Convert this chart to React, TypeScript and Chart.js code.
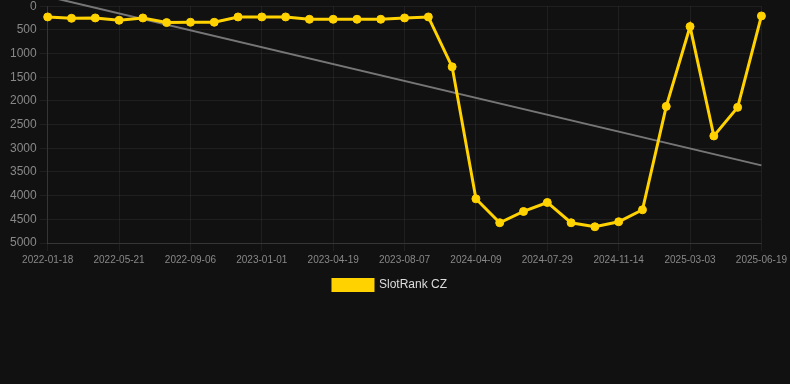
import React, { useEffect, useRef } from "react";
import { Chart, registerables } from "chart.js";

Chart.register(...registerables);

const dates = [
  "2022-01-18", "2022-02-28", "2022-04-10", "2022-05-21", "2022-06-26", "2022-08-01",
  "2022-09-06", "2022-10-15", "2022-11-23", "2023-01-01", "2023-02-06", "2023-03-14",
  "2023-04-19", "2023-05-26", "2023-07-02", "2023-08-07", "2023-10-28", "2024-01-18",
  "2024-04-09", "2024-05-16", "2024-06-22", "2024-07-29", "2024-09-04", "2024-10-10",
  "2024-11-14", "2024-12-20", "2025-01-25", "2025-03-03", "2025-04-08", "2025-05-14",
  "2025-06-19",
];

const rankCZ = [
  225, 253, 246, 295, 246, 344, 337, 337, 225, 225, 225, 274, 274, 274, 274, 246,
  225, 1279, 4067, 4572, 4334, 4144, 4572, 4657, 4551, 4298, 2114, 428, 2739, 2135, 204,
];

const trendStart = -206;
const trendEnd = 3360;
const trend = dates.map((_, i) => (i === 0 ? trendStart : i === dates.length - 1 ? trendEnd : null));

const seriesLabel = "SlotRank CZ";
const yTicks = { min: 0, max: 5000, step: 500 };

export default function App() {
  const ref = useRef<HTMLCanvasElement | null>(null);

  useEffect(() => {
    document.body.style.margin = "0";
    document.body.style.background = "#111111";
    document.documentElement.style.background = "#111111";
    const font = "Arial, 'Liberation Sans', Helvetica, sans-serif";
    const chart = new Chart(ref.current!, {
      type: "line",
      data: {
        labels: dates,
        datasets: [
          {
            label: seriesLabel,
            data: rankCZ,
            borderColor: "#FFD200",
            backgroundColor: "#FFD200",
            borderWidth: 3,
            pointRadius: 4,
            pointBorderWidth: 1,
            pointHoverRadius: 4,
            pointBackgroundColor: "#FFD200",
            pointBorderColor: "#FFD200",
            tension: 0,
          },
          {
            label: "trend",
            data: trend,
            borderColor: "rgba(130,130,130,0.9)",
            backgroundColor: "rgba(130,130,130,0.9)",
            borderWidth: 2,
            pointRadius: 0,
            spanGaps: true,
            clip: false as any,
          },
        ],
      },
      options: {
        animation: false,
        responsive: false,
        maintainAspectRatio: false,
        layout: { padding: { left: 7, right: 17, top: 0, bottom: 0 } },
        plugins: {
          legend: {
            position: "bottom",
            labels: {
              color: "#dddddd",
              font: { family: font, size: 12 },
              boxWidth: 40,
              boxHeight: 11,
              filter: (item) => item.text === seriesLabel,
            },
          },
          tooltip: { enabled: false },
        },
        scales: {
          x: {
            grid: { color: "rgba(255,255,255,0.06)" },
            border: { color: "rgba(255,255,255,0.1)" },
            ticks: {
              color: "#888888",
              font: { family: font, size: 10 },
              maxRotation: 0,
              autoSkip: true,
              maxTicksLimit: 11,
            },
          },
          y: {
            reverse: true,
            min: yTicks.min,
            max: yTicks.max,
            grid: { color: "rgba(255,255,255,0.06)" },
            border: { color: "rgba(255,255,255,0.1)" },
            ticks: {
              stepSize: yTicks.step,
              color: "#888888",
              font: { family: font, size: 12, lineHeight: 0.55 },
              callback: (v) => String(v),
            },
          },
        },
      },
    });
    return () => chart.destroy();
  }, []);

  return (
    <div style={{ width: 790, height: 301, background: "#111111" }}>
      <canvas ref={ref} width={790} height={301} style={{ display: "block" }} />
    </div>
  );
}
